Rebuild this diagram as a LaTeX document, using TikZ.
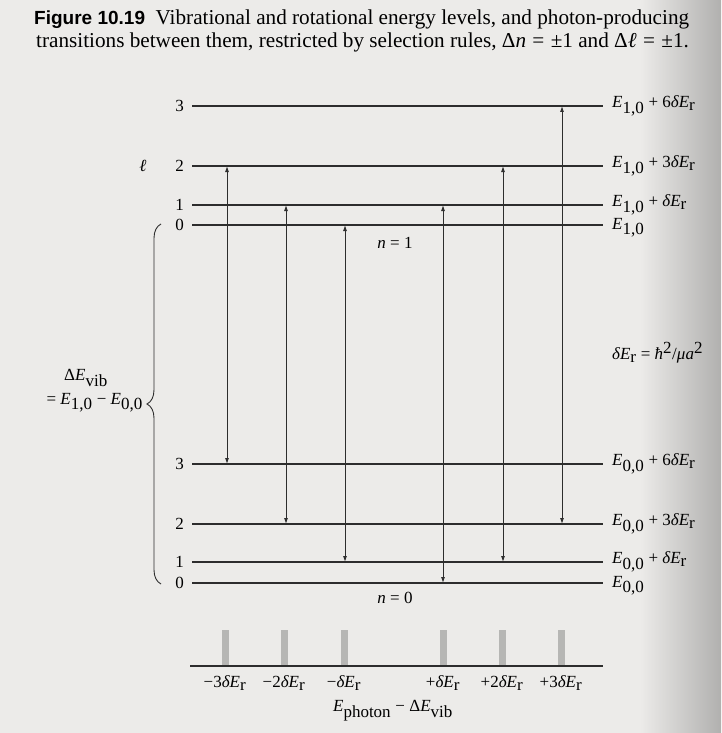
\documentclass[tikz,border=0pt]{standalone}
\usepackage{fontspec}
\setmainfont{Liberation Serif}
\newfontfamily\capsans{Liberation Sans}
\usetikzlibrary{decorations.pathreplacing,arrows.meta}
\definecolor{pagebg}{RGB}{236,235,233}
\definecolor{ink}{RGB}{45,45,45}
\definecolor{barc}{RGB}{182,182,180}
\newcommand\En[1]{\textit{E}$_{\textup{#1}}$}
\newcommand\dEr{\textit{δE}$_{\textup{r}}$}
\begin{document}
\begin{tikzpicture}[x=1pt,y=-1pt,
  level/.style={draw=ink,line width=1.3pt},
  trans/.style={draw=ink,line width=0.9pt,{Latex[length=6pt,width=4pt]}-{Latex[length=6pt,width=4pt]}},
  lvnum/.style={anchor=east,inner sep=0pt,font=\fontsize{17}{20}\selectfont},
  elabel/.style={anchor=west,inner sep=0pt,font=\fontsize{17}{20}\selectfont},
  txt/.style={inner sep=0pt,font=\fontsize{17}{20}\selectfont},
  bar/.style={fill=barc,draw=none},
  captxt/.style={anchor=base west,inner sep=0pt,font=\fontsize{21.2}{23}\selectfont}]
\useasboundingbox (0,0) rectangle (721,733);
\fill[pagebg] (0,0) rectangle (721,733);
\shade[left color=pagebg,right color=pagebg!75!black] (640,0) rectangle (721,733);
\begin{scope}
\clip (0,0) rectangle (721,733);
% caption
\node[captxt] (cap1) at (34,25) {{\capsans\bfseries\fontsize{19}{22}\selectfont Figure 10.19}\ \ Vibrational and rotational energy levels, and photon-producing};
\node[captxt] (cap2) at (36,48) {transitions between them, restricted by selection rules, Δ\textit{n}\hspace{0.3em}=\hspace{0.3em}±1 and Δ\textit{ℓ}\hspace{0.3em}=\hspace{0.3em}±1.};
\end{scope}
% energy levels
\foreach \nm/\y in {u3/106,u2/166,u1/205,u0/225,l3/464,l2/524,l1/562,l0/583}{
  \coordinate (\nm L) at (192,\y);
  \coordinate (\nm R) at (603,\y);
  \draw[level] (\nm L) -- (\nm R);
}
\node[lvnum] (nu3) at (184,106) {3};
\node[lvnum] (nu2) at (184,166) {2};
\node[lvnum] (nu1) at (184,205) {1};
\node[lvnum] (nu0) at (184,225) {0};
\node[lvnum] (nl3) at (184,464) {3};
\node[lvnum] (nl2) at (184,524) {2};
\node[lvnum] (nl1) at (184,562) {1};
\node[lvnum] (nl0) at (184,583) {0};
\node[txt] (ell) at (143,166) {\textit{ℓ}};
\node[txt] (n1) at (395,243) {\textit{n} = 1};
\node[txt] (n0) at (395,598) {\textit{n} = 0};
% right labels
\node[elabel] (eu3) at (612,106) {\En{1,0} + 6\dEr};
\node[elabel] (eu2) at (612,166) {\En{1,0} + 3\dEr};
\node[elabel] (eu1) at (612,205) {\En{1,0} + \dEr};
\node[elabel] (eu0) at (612,228) {\En{1,0}};
\node[elabel] (el3) at (612,464) {\En{0,0} + 6\dEr};
\node[elabel] (el2) at (612,524) {\En{0,0} + 3\dEr};
\node[elabel] (el1) at (612,562) {\En{0,0} + \dEr};
\node[elabel] (el0) at (612,586) {\En{0,0}};
\node[elabel] (der) at (612,353) {\dEr\ = \textit{ħ}$^{\textup{2}}$/\textit{μa}$^{\textup{2}}$};
% transitions
\foreach \i/\x/\t/\b in {1/227/166/464,2/286/205/524,3/345/225/562,4/443/205/583,5/503/166/562,6/562/106/524}{
  \coordinate (t\i top) at (\x,\t);
  \coordinate (t\i bot) at (\x,\b);
  \draw[trans] (t\i top) -- (t\i bot);
}
% brace
\coordinate (brtop) at (161,224);
\coordinate (brbot) at (161,584);
\draw[ink,line width=0.9pt,decorate,decoration={brace,amplitude=14pt,aspect=0.5}] (brbot) -- (brtop);
\node[txt] (dev) at (86,378) {Δ\textit{E}$_{\textup{vib}}$};
\node[txt,anchor=east] (dev2) at (143,403) {= \En{1,0} − \En{0,0}};
% spectrum
\coordinate (axL) at (190,666);
\coordinate (axR) at (603,666);
\foreach \i/\x/\lab in {1/225/{−3\dEr},2/284/{−2\dEr},3/344/{−\dEr},4/443/{+\dEr},5/502/{+2\dEr},6/561/{+3\dEr}}{
  \fill[bar] (\x-3.5,630) rectangle (\x+3.5,666);
  \node[txt] (sl\i) at (\x,683) {\lab};
}
\draw[level] (axL) -- (axR);
\node[txt] (axlab) at (393,711) {\textit{E}$_{\textup{photon}}$ − Δ\textit{E}$_{\textup{vib}}$};
\end{tikzpicture}
\end{document}
